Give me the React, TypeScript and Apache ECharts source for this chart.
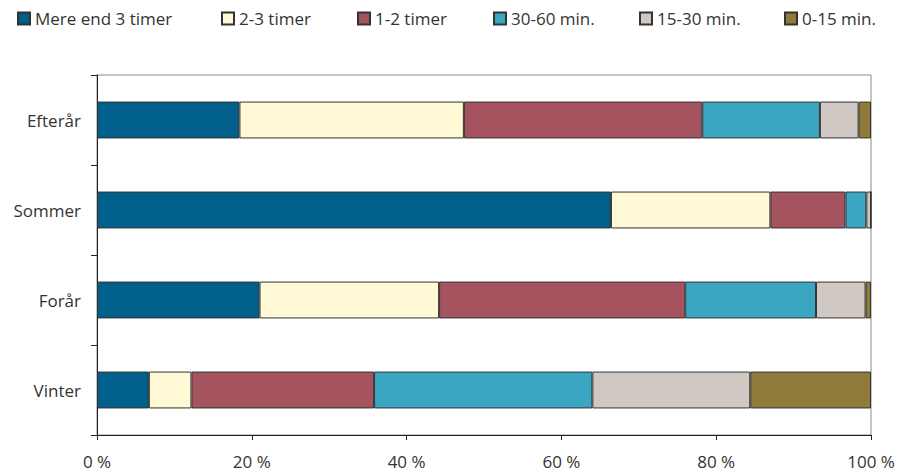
import React, { useEffect, useRef } from "react";
import * as echarts from "echarts";

const categories = ["Vinter", "Forår", "Sommer", "Efterår"];
const seriesNames = ["Mere end 3 timer", "2-3 timer", "1-2 timer", "30-60 min.", "15-30 min.", "0-15 min."];
const over3h = [6.7, 21.0, 66.4, 18.4];
const h2to3 = [5.5, 23.2, 20.6, 29.0];
const h1to2 = [23.6, 31.8, 9.7, 30.8];
const m30to60 = [28.2, 16.9, 2.7, 15.2];
const m15to30 = [20.4, 6.4, 0.6, 5.0];
const m0to15 = [15.6, 0.7, 0, 1.6];
const colors = ["#005F8B", "#FFF9D5", "#A5535F", "#3AA6C2", "#D0C8C2", "#8F7C3A"];
const legendLeft = [17, 221, 357, 493, 639, 784];
const xTicks = [0, 20, 40, 60, 80, 100];

const FONT = "Open Sans";
const FS = 17;

export default function App() {
  const ref = useRef<HTMLDivElement>(null);
  useEffect(() => {
    if (!ref.current) return;
    const chart = echarts.init(ref.current, undefined, { renderer: "svg" });
    const values = [over3h, h2to3, h1to2, m30to60, m15to30, m0to15];
    chart.setOption({
      animation: false,
      textStyle: { fontFamily: FONT },
      legend: seriesNames.map((n, i) => ({
        data: [n],
        left: legendLeft[i],
        top: 10,
        itemWidth: 12,
        itemHeight: 12,
        itemGap: 0,
        padding: 0,
        icon: "rect",
        textStyle: { fontSize: FS, color: "#333", fontFamily: FONT },
      })),
      grid: {
        left: 97,
        right: 29,
        top: 75,
        bottom: 38,
        show: true,
        borderColor: "#8a8a8a",
        borderWidth: 1,
      },
      xAxis: {
        type: "value",
        min: xTicks[0],
        max: xTicks[xTicks.length - 1],
        interval: 20,
        axisLine: { show: true, lineStyle: { color: "#222", width: 1 } },
        axisTick: { show: true, length: 5, lineStyle: { color: "#222" } },
        splitLine: { show: false },
        axisLabel: {
          formatter: (v: number) => `${v} %`,
          fontSize: FS,
          lineHeight: 18,
          color: "#333",
          margin: 17,
          fontFamily: FONT,
        },
      },
      yAxis: {
        type: "category",
        data: categories,
        axisLine: { show: true, lineStyle: { color: "#222", width: 1 } },
        axisTick: { show: true, length: 6, lineStyle: { color: "#222" } },
        axisLabel: { fontSize: FS, color: "#333", margin: 16, fontFamily: FONT },
      },
      series: seriesNames.map((n, i) => ({
        name: n,
        type: "bar",
        stack: "total",
        barWidth: "41%",
        data: values[i],
        itemStyle: { color: colors[i], borderColor: "#333", borderWidth: 1 },
      })),
    });
    return () => chart.dispose();
  }, []);
  return <div ref={ref} style={{ width: 900, height: 473, position: "absolute", left: 0, top: 0 }} />;
}
